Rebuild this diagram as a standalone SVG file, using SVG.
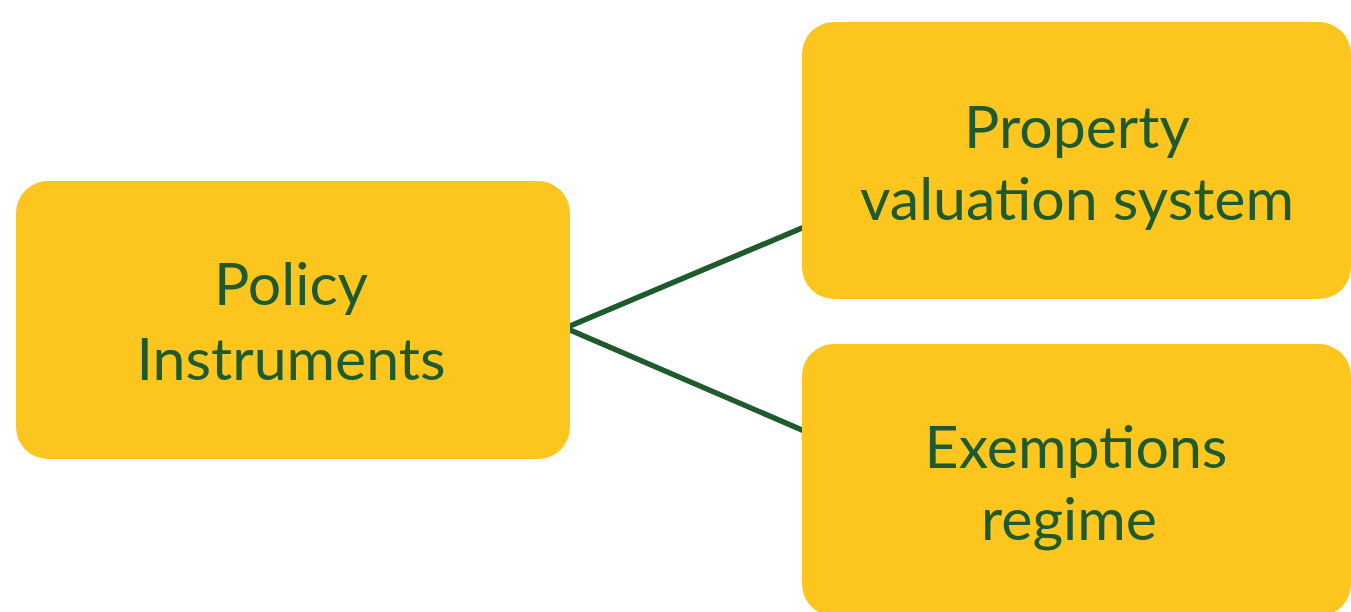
<svg xmlns="http://www.w3.org/2000/svg" width="1351" height="612" viewBox="0 0 1351 612">
<style>
.box{fill:#FCC61F;}
.lbl{font-family:Lato,"Open Sans","Liberation Sans",sans-serif;font-size:59px;fill:#1E5A2D;text-anchor:middle;}
.conn{stroke:#1E5A2D;stroke-width:5.5;fill:none;stroke-linecap:round;}
</style>
<rect width="1351" height="612" fill="#ffffff"/>
<g id="connectors">
<line class="conn" x1="570" y1="326" x2="802" y2="228"/>
<line class="conn" x1="570" y1="330" x2="802" y2="430"/>
</g>
<g id="node-policy">
<rect class="box" x="16" y="181" width="554" height="278" rx="32"/>
<text class="lbl" x="291" y="305">Policy</text>
<text class="lbl" x="291" y="380">Instruments</text>
</g>
<g id="node-property">
<rect class="box" x="802" y="22" width="549" height="277" rx="32"/>
<text class="lbl" x="1077" y="148">Property</text>
<text class="lbl" x="1077" y="220">valuation system</text>
</g>
<g id="node-exemptions">
<rect class="box" x="802" y="344" width="549" height="272" rx="32"/>
<text class="lbl" x="1076" y="468">Exemptions</text>
<text class="lbl" x="1069" y="540">regime</text>
</g>
</svg>
